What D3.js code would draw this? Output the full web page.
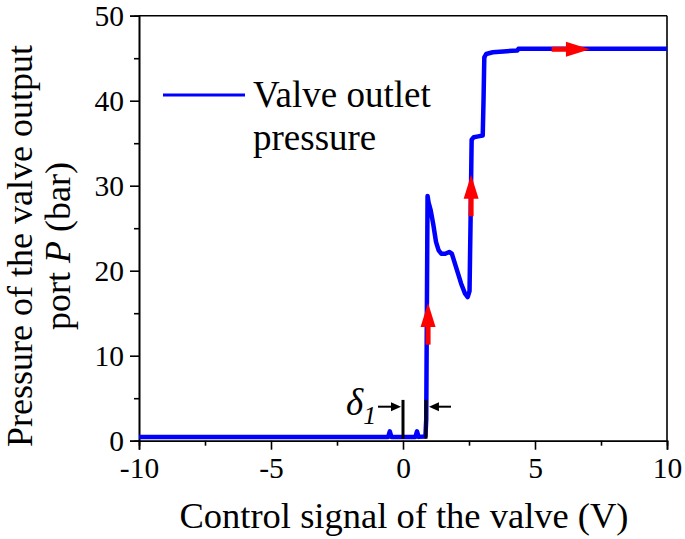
<!DOCTYPE html>
<html>
<head>
<meta charset="utf-8">
<script src="https://cdn.jsdelivr.net/npm/d3@7"></script>
<style>
  html, body { margin: 0; padding: 0; background: #fff; }
  svg { display: block; }
  svg text { font-family: "Liberation Serif", "Times New Roman", serif; }
</style>
</head>
<body>
<svg id="chart" width="685" height="539"></svg>
<script>
// ---- data ----
const signal = [-10, -0.56, -0.5, -0.44, 0.47, 0.53, 0.59, 0.85, 0.88, 0.93, 0.97, 1.05, 1.15, 1.25, 1.35, 1.45, 1.6, 1.75, 1.85, 2.0, 2.2, 2.35, 2.45, 2.52, 2.56, 2.6, 2.68, 2.85, 3.02, 3.05, 3.08, 3.15, 3.4, 3.8, 4.33, 4.37, 10];
const pressure = [0.45, 0.45, 1.1, 0.45, 0.45, 1.1, 0.45, 0.5, 2.5, 28.8, 28.0, 27.1, 25.4, 23.4, 22.4, 22.0, 22.0, 22.2, 22.0, 20.5, 18.5, 17.3, 16.9, 17.6, 26.0, 35.4, 35.7, 35.8, 35.9, 40.0, 45.1, 45.5, 45.7, 45.8, 45.9, 46.1, 46.1];
const xTicks = [-10, -5, 0, 5, 10];
const xTickLabels = ["-10", "-5", "0", "5", "10"];
const xMinorTicks = [-7.5, -2.5, 2.5, 7.5];
const yTicks = [0, 10, 20, 30, 40, 50];
const yTickLabels = ["0", "10", "20", "30", "40", "50"];
const yMinorTicks = [5, 15, 25, 35, 45];
const seriesName = ["Valve outlet", "pressure"];
// red direction arrows: start and tip, in data units
const arrowStartX = [0.95, 2.58, 5.63];
const arrowStartY = [11.3, 26.4, 46.05];
const arrowEndX = [0.95, 2.58, 7.08];
const arrowEndY = [16.2, 31.3, 46.05];
// delta_1 dead-zone markers
const deltaMarkers = [0, 0.87];
const deltaMarkerTop = 4.8;
const deltaArrowY = 4.0;

// ---- layout ----
const FONT = '"Liberation Serif", "Times New Roman", serif';
const svg = d3.select("#chart");
const L = 139, R = 667, T = 15.7, B = 440.7;
const x = d3.scaleLinear().domain([-10, 10]).range([L, R]);
const y = d3.scaleLinear().domain([0, 50]).range([B, T]);

// frame (top & right)
svg.append("line").attr("x1", L).attr("x2", R).attr("y1", T).attr("y2", T)
  .attr("stroke", "#000").attr("stroke-width", 1.6);
svg.append("line").attr("x1", R).attr("x2", R).attr("y1", T).attr("y2", B)
  .attr("stroke", "#000").attr("stroke-width", 1.6);

// axes
const xAxis = svg.append("g").attr("transform", `translate(0,${B})`)
  .call(d3.axisBottom(x).tickValues(xTicks).tickSize(9).tickPadding(4)
    .tickFormat((d, i) => xTickLabels[i]));
const xMinor = svg.append("g").attr("transform", `translate(0,${B})`)
  .call(d3.axisBottom(x).tickValues(xMinorTicks).tickSize(5).tickFormat(""));
const yAxis = svg.append("g").attr("transform", `translate(${L},0)`)
  .call(d3.axisLeft(y).tickValues(yTicks).tickSize(9).tickPadding(6)
    .tickFormat((d, i) => yTickLabels[i]));
const yMinor = svg.append("g").attr("transform", `translate(${L},0)`)
  .call(d3.axisLeft(y).tickValues(yMinorTicks).tickSize(5).tickFormat(""));
[xAxis, xMinor, yAxis, yMinor].forEach(g => {
  g.attr("font-family", null);
  g.select(".domain").attr("stroke", "#000").attr("stroke-width", 1.6);
  g.selectAll(".tick line").attr("stroke", "#000").attr("stroke-width", 1.6);
  g.selectAll("text").style("font-family", FONT)
    .attr("font-size", 29.5).attr("fill", "#000");
});
xAxis.selectAll("text").attr("dy", "0.82em");

// data line
const line = d3.line().x((d, i) => x(signal[i])).y(d => y(d));
svg.append("path").datum(pressure).attr("d", line)
  .attr("fill", "none").attr("stroke", "#0000ff").attr("stroke-width", 4.5)
  .attr("stroke-linejoin", "round");

// arrows
function arrow(g, x1, y1, x2, y2, color, shaftW, headL, headW) {
  const dx = x2 - x1, dy = y2 - y1, len = Math.hypot(dx, dy);
  const ux = dx / len, uy = dy / len, px = -uy, py = ux;
  const bx = x2 - ux * headL, by = y2 - uy * headL;
  g.append("line").attr("x1", x1).attr("y1", y1).attr("x2", bx + ux).attr("y2", by + uy)
    .attr("stroke", color).attr("stroke-width", shaftW);
  g.append("path").attr("d", `M${x2},${y2}L${bx + px * headW / 2},${by + py * headW / 2}L${bx - px * headW / 2},${by - py * headW / 2}Z`)
    .attr("fill", color);
}
const arrows = svg.append("g");
arrowStartX.forEach((v, i) => {
  arrow(arrows, x(v), y(arrowStartY[i]), x(arrowEndX[i]), y(arrowEndY[i]), "#ff0000", 5, 24, 15);
});

// delta_1 annotation
const ann = svg.append("g");
deltaMarkers.forEach(v => {
  ann.append("line").attr("x1", x(v)).attr("x2", x(v)).attr("y1", y(0) - 2).attr("y2", y(deltaMarkerTop))
    .attr("stroke", "#000").attr("stroke-width", 3);
});
arrow(ann, x(deltaMarkers[0]) - 25, y(deltaArrowY), x(deltaMarkers[0]) - 2, y(deltaArrowY), "#000", 2, 10, 9);
arrow(ann, x(deltaMarkers[1]) + 25, y(deltaArrowY), x(deltaMarkers[1]) + 3, y(deltaArrowY), "#000", 2, 10, 9);
const dt = ann.append("text").attr("x", x(deltaMarkers[0]) - 57).attr("y", y(deltaArrowY) + 8)
  .attr("font-size", 37).attr("font-style", "italic").attr("fill", "#000");
dt.append("tspan").text("δ");
dt.append("tspan").attr("font-size", 26).attr("dy", 9).text("1");

// legend
svg.append("line").attr("x1", 163).attr("x2", 245).attr("y1", 95).attr("y2", 95)
  .attr("stroke", "#0000ff").attr("stroke-width", 3);
const lg = svg.append("text").attr("x", 253).attr("y", 107).attr("font-size", 37).attr("fill", "#000");
lg.append("tspan").attr("x", 253).text(seriesName[0]);
lg.append("tspan").attr("x", 253).attr("dy", 43).text(seriesName[1]);

// axis titles
svg.append("text").attr("x", (L + R) / 2 + 1).attr("y", 528).attr("text-anchor", "middle")
  .attr("font-size", 36.5).attr("fill", "#000").text("Control signal of the valve (V)");
const yt = svg.append("text").attr("transform", "translate(32,246) rotate(-90)")
  .attr("text-anchor", "middle").attr("font-size", 36).attr("fill", "#000");
yt.append("tspan").attr("x", 0).attr("y", 0).text("Pressure of the valve output");
const l2 = yt.append("tspan").attr("x", 0).attr("y", 38);
l2.append("tspan").text("port ");
l2.append("tspan").attr("font-style", "italic").text("P");
l2.append("tspan").text(" (bar)");
</script>
</body>
</html>
